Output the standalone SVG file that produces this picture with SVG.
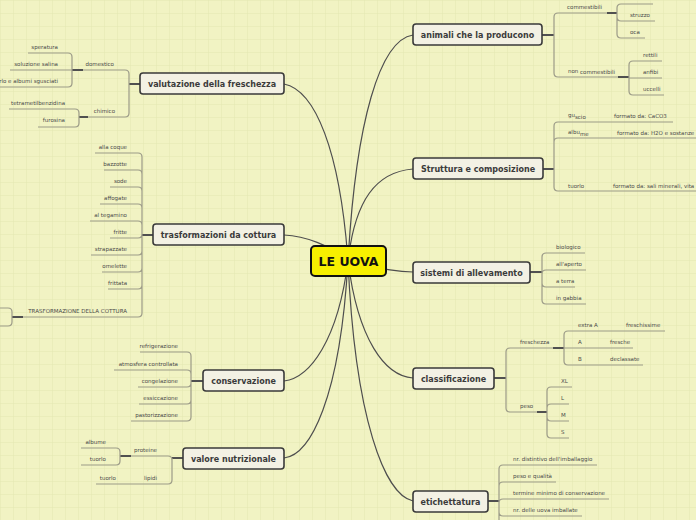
<svg xmlns="http://www.w3.org/2000/svg" width="696" height="520" viewBox="0 0 696 520">
<defs>
<pattern id="grid" width="13" height="13" patternUnits="userSpaceOnUse">
<rect width="13" height="13" fill="#f1f3c3"/>
<path d="M 13 0 L 0 0 0 13" fill="none" stroke="#e3e7b2" stroke-width="1"/>
</pattern>
<style>
.node rect{fill:#f3f1e4;stroke:#3a3a3a;stroke-width:1.6}
.node text{font-family:"DejaVu Sans",sans-serif;font-weight:bold;font-size:8px;fill:#3b3b3b;text-anchor:middle}
#root rect{fill:#f7ef00;stroke:#111;stroke-width:2}
#root text{font-size:12.5px;fill:#111}
.main{fill:none;stroke:#4e4e4e;stroke-width:1.2}
.stub{fill:none;stroke:#505050;stroke-width:2}
.br{fill:none;stroke:#9c9b88;stroke-width:1.2}
.lb{font-family:"DejaVu Sans",sans-serif;font-size:5.5px;fill:#4a4a4a}
.le{text-anchor:end}
</style>
</defs>
<rect width="696" height="520" fill="url(#grid)"/>

<g id="connectors">
<path class="main" d="M 348 261 C 356 120 380 40 413 35"/>
<path class="main" d="M 348 261 C 355 200 376 172 413 169"/>
<path class="main" d="M 348 261 C 380 268 395 272 413 272"/>
<path class="main" d="M 348 261 C 358 340 385 376 413 378"/>
<path class="main" d="M 348 261 C 355 420 385 495 413 501"/>
<path class="main" d="M 348 261 C 340 150 315 90 284 84"/>
<path class="main" d="M 348 261 C 330 245 305 236 284 235"/>
<path class="main" d="M 348 261 C 338 340 310 378 284 381"/>
<path class="main" d="M 348 261 C 340 400 310 455 284 458"/>

<!-- animali -->
<path class="stub" d="M 542 35 L 554 35"/>
<path class="br" d="M 554 35 L 554 17 Q 554 13 558 13 L 607 13 M 554 35 L 554 73 Q 554 77 558 77 L 618 77"/>
<path class="stub" d="M 607 13 L 617 13 M 618 77 L 629 77"/>
<path class="br" d="M 617 13 L 617 8 Q 617 4 621 4 L 653 4 M 617 13 L 617 17 Q 617 21 621 21 L 655 21 M 617 13 L 617 34 Q 617 38 621 38 L 645 38"/>
<path class="br" d="M 629 77 L 629 65 Q 629 61 633 61 L 662 61 M 629 77 L 629 78 L 662 78 M 629 77 L 629 91 Q 629 95 633 95 L 664 95"/>
<!-- struttura -->
<path class="stub" d="M 543 169 L 554 169"/>
<path class="br" d="M 554 169 L 554 126 Q 554 122 558 122 L 673 122 M 554 169 L 554 142 Q 554 138 558 138 L 700 138 M 554 169 L 554 187 Q 554 191 558 191 L 700 191"/>
<!-- sistemi -->
<path class="stub" d="M 530 272 L 542 272"/>
<path class="br" d="M 542 272 L 542 257 Q 542 253 546 253 L 585 253 M 542 272 L 542 274 Q 542 270 546 270 L 586 270 M 542 272 L 542 283 Q 542 287 546 287 L 575 287 M 542 272 L 542 300 Q 542 304 546 304 L 586 304"/>
<!-- classificazione -->
<path class="stub" d="M 494 378 L 506 378"/>
<path class="br" d="M 506 378 L 506 352 Q 506 348 510 348 L 553 348 M 506 378 L 506 408 Q 506 412 510 412 L 537 412"/>
<path class="stub" d="M 553 348 L 564 348 M 537 412 L 547 412"/>
<path class="br" d="M 564 348 L 564 335 Q 564 331 568 331 L 665 331 M 564 348 L 633 348 M 564 348 L 564 361 Q 564 365 568 365 L 643 365"/>
<path class="br" d="M 547 412 L 547 391 Q 547 387 551 387 L 572 387 M 547 412 L 547 408 Q 547 404 551 404 L 569 404 M 547 412 L 547 417 Q 547 421 551 421 L 569 421 M 547 412 L 547 434 Q 547 438 551 438 L 569 438"/>
<!-- etichettatura -->
<path class="stub" d="M 488 501 L 499 501"/>
<path class="br" d="M 499 501 L 499 469 Q 499 465 503 465 L 597 465 M 499 501 L 499 486 Q 499 482 503 482 L 556 482 M 499 501 L 499 503 Q 499 499 503 499 L 609 499 M 499 501 L 499 525 M 499 512 Q 499 516 503 516 L 582 516"/>

<!-- valutazione -->
<path class="stub" d="M 140 84 L 129 84"/>
<path class="br" d="M 129 84 L 129 74 Q 129 70 125 70 L 83 70 M 129 84 L 129 113 Q 129 117 125 117 L 88 117"/>
<path class="stub" d="M 83 70 L 72 70 M 88 117 L 79 117"/>
<path class="br" d="M 72 70 L 72 57 Q 72 53 68 53 L 28 53 M 72 70 L 10 70 M 72 70 L 72 83 Q 72 87 68 87 L 0 87"/>
<path class="br" d="M 79 117 L 79 113 Q 79 109 75 109 L 9 109 M 79 117 L 79 123 Q 79 127 75 127 L 38 127"/>
<!-- trasformazioni -->
<path class="stub" d="M 153 235 L 142 235"/>
<path class="br" d="M 142 235 L 142 157 Q 142 153 138 153 L 95 153 M 142 174 Q 142 170 138 170 L 104 170 M 142 191 Q 142 187 138 187 L 110 187 M 142 208 Q 142 204 138 204 L 100 204 M 142 225 Q 142 221 138 221 L 90 221 M 142 235 L 142 234 Q 142 238 138 238 L 110 238 M 142 235 L 142 313 Q 142 317 138 317 L 23 317 M 142 251 Q 142 255 138 255 L 91 255 M 142 268 Q 142 272 138 272 L 102 272 M 142 285 Q 142 289 138 289 L 108 289"/>
<path class="stub" d="M 23 317 L 12 317"/>
<path class="br" d="M 0 308 L 8 308 Q 12 308 12 312 L 12 322 Q 12 326 8 326 L 0 326"/>
<!-- conservazione -->
<path class="stub" d="M 203 381 L 191 381"/>
<path class="br" d="M 191 381 L 191 356 Q 191 352 187 352 L 140 352 M 191 374 Q 191 370 187 370 L 114 370 M 191 381 L 191 383 Q 191 387 187 387 L 138 387 M 191 381 L 191 417 Q 191 421 187 421 L 131 421 M 191 400 Q 191 404 187 404 L 139 404"/>
<!-- valore -->
<path class="stub" d="M 183 458 L 172 458"/>
<path class="br" d="M 172 458 L 172 460 Q 172 456 168 456 L 131 456 M 172 458 L 172 480 Q 172 484 168 484 L 96 484"/>
<path class="stub" d="M 131 456 L 120 456"/>
<path class="br" d="M 120 456 L 120 452 Q 120 448 116 448 L 81 448 M 120 456 L 120 461 Q 120 465 116 465 L 81 465"/>
</g>

<g id="labels">
<text class="lb" x="567" y="9">commestibili</text>
<text class="lb" x="630" y="0">anatra</text>
<text class="lb" x="630" y="17">struzzo</text>
<text class="lb" x="630" y="34">oca</text>
<text class="lb" x="568" y="73">non<tspan x="580" dy="1">commestibili</tspan></text>
<text class="lb" x="643" y="57">rettili</text>
<text class="lb" x="643" y="74">anfibi</text>
<text class="lb" x="643" y="91">uccelli</text>
<text class="lb" x="568" y="117">gu<tspan dy="1.5">scio</tspan></text>
<text class="lb" x="614" y="118">formato da: CaCO3</text>
<text class="lb" x="568" y="134">albu<tspan dy="1.5">me</tspan></text>
<text class="lb" x="617" y="135">formato da: H2O e sostanze</text>
<text class="lb" x="568" y="188">tuorlo</text>
<text class="lb" x="613" y="188">formato da: sali minerali, vita</text>
<text class="lb" x="556" y="249">biologico</text>
<text class="lb" x="556" y="266">all'aperto</text>
<text class="lb" x="556" y="283">a terra</text>
<text class="lb" x="556" y="300">in gabbia</text>
<text class="lb" x="520" y="344">freschezza</text>
<text class="lb" x="578" y="327">extra A</text>
<text class="lb" x="626" y="327">freschissime</text>
<text class="lb" x="578" y="344">A</text>
<text class="lb" x="610" y="344">fresche</text>
<text class="lb" x="578" y="361">B</text>
<text class="lb" x="610" y="361">declassate</text>
<text class="lb" x="520" y="408">peso</text>
<text class="lb" x="561" y="383">XL</text>
<text class="lb" x="561" y="400">L</text>
<text class="lb" x="561" y="417">M</text>
<text class="lb" x="561" y="434">S</text>
<text class="lb" x="513" y="461">nr. distintivo dell'imballaggio</text>
<text class="lb" x="513" y="478">peso e qualità</text>
<text class="lb" x="513" y="495">termine minimo di conservazione</text>
<text class="lb" x="513" y="512">nr. delle uova imballate</text>

<text class="lb le" x="114" y="66">domestico</text>
<text class="lb le" x="58" y="49">speratura</text>
<text class="lb le" x="58" y="66">soluzione salina</text>
<text class="lb le" x="58" y="83">tuorlo e albumi sgusciati</text>
<text class="lb le" x="115" y="113">chimico</text>
<text class="lb le" x="65" y="105">tetrametilbenzidina</text>
<text class="lb le" x="65" y="122">furosina</text>
<text class="lb le" x="127" y="149">alla coque</text>
<text class="lb le" x="127" y="166">bazzotte</text>
<text class="lb le" x="127" y="183">sode</text>
<text class="lb le" x="127" y="200">affogate</text>
<text class="lb le" x="127" y="217">al tegamino</text>
<text class="lb le" x="127" y="234">fritte</text>
<text class="lb le" x="127" y="251">strapazzate</text>
<text class="lb le" x="127" y="268">omelette</text>
<text class="lb le" x="127" y="285">frittata</text>
<text class="lb le" x="127" y="313">TRASFORMAZIONE DELLA COTTURA</text>
<text class="lb le" x="178" y="348">refrigerazione</text>
<text class="lb le" x="178" y="366">atmosfera controllata</text>
<text class="lb le" x="178" y="383">congelazione</text>
<text class="lb le" x="178" y="400">essiccazione</text>
<text class="lb le" x="178" y="417">pastorizzazione</text>
<text class="lb le" x="157" y="452">proteine</text>
<text class="lb le" x="106" y="444">albume</text>
<text class="lb le" x="106" y="461">tuorlo</text>
<text class="lb le" x="157" y="480">lipidi</text>
<text class="lb le" x="116" y="480">tuorlo</text>
</g>

<g id="root" class="node"><rect x="311" y="246" width="75" height="30" rx="4"/><text x="348.5" y="265.5">LE UOVA</text></g>
<g id="n-animali" class="node"><rect x="413" y="24" width="129" height="21" rx="3"/><text x="477.5" y="37.5">animali che la producono</text></g>
<g id="n-struttura" class="node"><rect x="413" y="158" width="130" height="21" rx="3"/><text x="478" y="171.5">Struttura e composizione</text></g>
<g id="n-sistemi" class="node"><rect x="413" y="262" width="117" height="21" rx="3"/><text x="471.5" y="275.5">sistemi di allevamento</text></g>
<g id="n-classificazione" class="node"><rect x="413" y="368" width="81" height="21" rx="3"/><text x="453.5" y="381.5">classificazione</text></g>
<g id="n-etichettatura" class="node"><rect x="413" y="491" width="75" height="21" rx="3"/><text x="450.5" y="504.5">etichettatura</text></g>
<g id="n-valutazione" class="node"><rect x="140" y="73" width="144" height="21" rx="3"/><text x="212" y="86.5">valutazione della freschezza</text></g>
<g id="n-trasformazioni" class="node"><rect x="153" y="224" width="131" height="21" rx="3"/><text x="218.5" y="237.5">trasformazioni da cottura</text></g>
<g id="n-conservazione" class="node"><rect x="203" y="370" width="81" height="21" rx="3"/><text x="243.5" y="383.5">conservazione</text></g>
<g id="n-valore" class="node"><rect x="183" y="448" width="101" height="21" rx="3"/><text x="233.5" y="461.5">valore nutrizionale</text></g>
</svg>
